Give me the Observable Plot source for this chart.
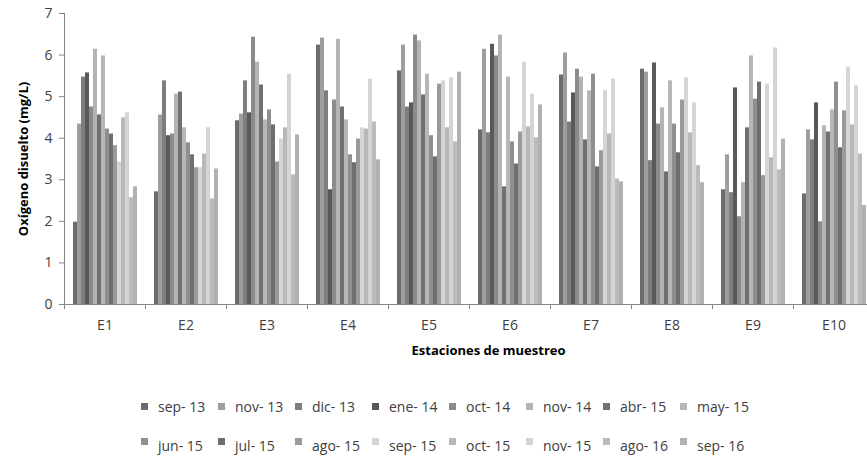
<!DOCTYPE html>
<html><head><meta charset="utf-8">
<script src="https://cdn.jsdelivr.net/npm/d3@7"></script>
<script src="https://cdn.jsdelivr.net/npm/@observablehq/plot@0.6"></script>
<style>
body{margin:0;background:#fff;font-family:"Open Sans",sans-serif;}
#chart{position:relative;width:867px;height:457px;overflow:hidden;background:#fff}
.legend{display:grid;grid-template-columns:repeat(8,77px);grid-auto-rows:39px;margin-left:141px;margin-top:12px;color:#404040;font-size:14px}
.item{display:flex;align-items:center;white-space:nowrap}
.sw{width:7px;height:7px;margin-right:10px;flex:none}
.r2 .sw{align-self:flex-start;margin-top:12px}
</style></head><body><div id="chart"></div><script>
const stations = ["E1","E2","E3","E4","E5","E6","E7","E8","E9","E10"];
const months = ["sep- 13","nov- 13","dic- 13","ene- 14","oct- 14","nov- 14","abr- 15","may- 15",
                "jun- 15","jul- 15","ago- 15","sep- 15","oct- 15","nov- 15","ago- 16","sep- 16"];
const colors = ["#6b6d6c","#9d9e9d","#7d7e7d","#585a59","#8a8b8a","#b3b4b3","#6f7170","#b6b7b6",
                "#8e8f8e","#6d6f6e","#999a99","#d4d5d4","#b7b8b7","#d3d4d3","#babbba","#b0b1b0"];
const yTicks = [0,1,2,3,4,5,6,7];

const E1  = [1.98,4.34,5.47,5.57,4.75,6.14,4.56,5.98,4.22,4.10,3.82,3.43,4.49,4.61,2.57,2.83];
const E2  = [2.71,4.56,5.38,4.06,4.10,5.06,5.11,4.25,3.89,3.60,3.29,3.29,3.62,4.25,2.54,3.26];
const E3  = [4.42,4.58,5.38,4.61,6.43,5.83,5.28,4.44,4.68,4.32,3.43,3.98,4.25,5.54,3.12,4.08];
const E4  = [6.24,6.41,5.14,2.76,4.92,6.38,4.75,4.44,3.60,3.41,3.98,4.25,4.22,5.42,4.39,3.48];
const E5  = [5.62,6.24,4.75,4.85,6.48,6.34,5.04,5.54,4.06,3.55,5.30,5.38,4.25,5.45,3.91,5.59];
const E6  = [4.20,6.14,4.13,6.26,5.98,6.48,2.83,5.47,3.91,3.38,4.15,5.83,4.27,5.06,4.01,4.80];
const E7  = [5.52,6.05,4.39,5.09,5.66,5.47,3.96,5.14,5.54,3.31,3.70,5.14,4.10,5.42,3.02,2.95];
const E8  = [5.66,5.59,3.46,5.81,4.34,4.73,3.19,5.38,4.34,3.65,4.92,5.45,4.13,4.85,3.34,2.93];
const E9  = [2.76,3.60,2.69,5.21,2.11,2.93,4.25,5.98,4.94,5.35,3.10,5.30,3.53,6.17,3.24,3.98];
const E10 = [2.66,4.20,3.96,4.85,1.99,4.30,4.15,4.68,5.35,3.77,4.66,5.71,4.32,5.26,3.62,2.38];

const series = [E1,E2,E3,E4,E5,E6,E7,E8,E9,E10];
const rows = [];
stations.forEach((s, i) => months.forEach((m, j) => rows.push({station: s, month: m, value: series[i][j]})));

const plot = Plot.plot({
  width: 867, height: 375,
  marginLeft: 64, marginRight: -7, marginTop: 13, marginBottom: 71,
  style: {fontFamily: "'Open Sans', sans-serif", fontSize: "14px", color: "#404040", background: "#fff"},
  fx: {domain: stations, padding: 0, label: null},
  x: {domain: months, paddingInner: 0, paddingOuter: 0.9, axis: null},
  y: {domain: [0, 7]},
  color: {domain: months, range: colors},
  marks: [
    Plot.barY(rows, {fx: "station", x: "month", y: "value", fill: "month"}),
    Plot.ruleY([0], {stroke: "#868686"}),
    Plot.axisY({ticks: yTicks, tickFormat: d3.format("d"), tickSize: 5, tickPadding: 7, stroke: "#868686", fill: "#404040",
      label: "Oxígeno disuelto (mg/L)", labelAnchor: "center", labelArrow: "none", labelOffset: 46}),
    Plot.axisFx({anchor: "bottom", tickSize: 0, tickPadding: 16, fill: "#404040",
      label: "Estaciones de muestreo", labelAnchor: "center", labelArrow: "none", labelOffset: 50})
  ]
});

// axis line and category boundary ticks drawn from the library's scales
const fx = plot.scale("fx"), y = plot.scale("y");
const g = d3.select(plot).append("g").attr("stroke", "#868686");
const x0 = fx.apply(stations[0]);
g.append("line").attr("x1", x0 + 0.5).attr("x2", x0 + 0.5).attr("y1", y.apply(7)).attr("y2", y.apply(0));
const bounds = stations.map(s => fx.apply(s)).concat([fx.apply(stations[stations.length - 1]) + fx.bandwidth]);
bounds.forEach(b => g.append("line").attr("x1", b + 0.5).attr("x2", b + 0.5).attr("y1", y.apply(0)).attr("y2", y.apply(0) + 5));
d3.select(plot).selectAll('[aria-label="y-axis label"], [aria-label="fx-axis label"]')
  .attr("font-weight", "bold").attr("fill", "#000").attr("font-size", "13px");
d3.select(plot).selectAll('[aria-label="fx-axis label"] text').attr("dx", 19);

const chart = document.getElementById("chart");
chart.appendChild(plot);
const legend = document.createElement("div");
legend.className = "legend";
months.forEach((m, i) => {
  const it = document.createElement("div");
  it.className = "item" + (i >= 8 ? " r2" : "");
  const sw = document.createElement("span");
  sw.className = "sw"; sw.style.background = colors[i];
  it.appendChild(sw);
  it.appendChild(document.createTextNode(m));
  legend.appendChild(it);
});
chart.appendChild(legend);
</script></body></html>
